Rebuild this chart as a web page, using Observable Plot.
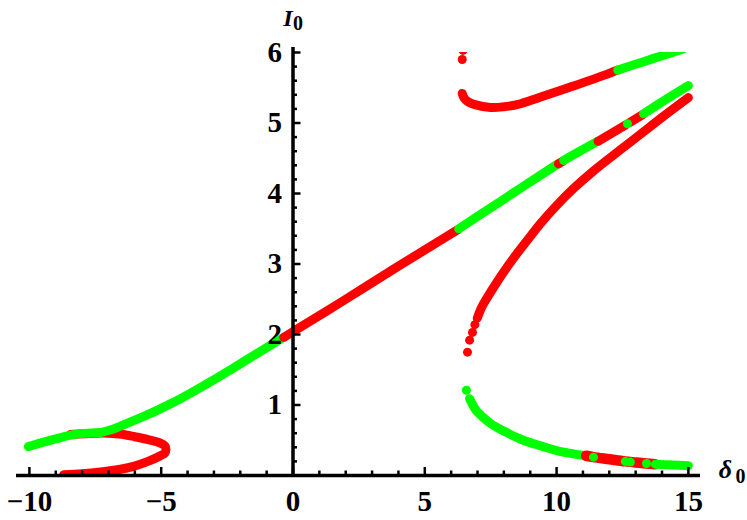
<!DOCTYPE html>
<html><head><meta charset="utf-8">
<script src="https://cdn.jsdelivr.net/npm/d3@7"></script>
<script src="https://cdn.jsdelivr.net/npm/@observablehq/plot@0.6"></script>
<style>html,body{margin:0;padding:0;background:#fff}</style>
</head><body><div id="chart"></div>
<script>
// ---- colours ----
const RED = "#ff0000", GREEN = "#00ff00";

// ---- tick labels ----
const xMajor = [-10, -5, 0, 5, 10, 15];
const xLabels = ["\u221210", "\u22125", "0", "5", "10", "15"];
const yMajor = [1, 2, 3, 4, 5, 6];
const yLabels = ["1", "2", "3", "4", "5", "6"];

// ---- data: [δ0, I0] ----
// left loop (red) and main branch (green, then red, then green)
const loopRed = [[-8.45,0.58],[-7.5,0.6],[-7,0.6],[-6.5,0.585],[-6,0.55],[-5.5,0.51],[-5.03,0.46],[-4.86,0.42],[-4.82,0.37],[-4.86,0.32],[-5.03,0.28],[-5.5,0.2],[-6.05,0.13],[-6.6,0.085],[-7.3,0.05],[-8,0.025],[-8.7,0.01]];
const mainGreenLeft = [[-10.04,0.41],[-9.5,0.47],[-9,0.52],[-8.33,0.58],[-7.8,0.6],[-7.3,0.61],[-6.9,0.65],[-6.55,0.7],[-6,0.785],[-5.41,0.88],[-4.8,0.99],[-4.27,1.09],[-3.5,1.25],[-2.5,1.47],[-1.5,1.70],[-0.4,1.95]];
const mainRed = [[-0.35,1.96],[0,2.04],[2,2.5],[4,2.97],[6.27,3.49]];
const mainGreen1 = [[6.29,3.5],[8,3.92],[10.05,4.42]];
const mainRed1 = [[10.07,4.42],[10.24,4.46]];
const mainGreen2 = [[10.27,4.47],[10.64,4.55],[11.55,4.74]];
const mainRed2 = [[11.57,4.74],[12.61,4.97]];
const mainGreenDot = [[12.69,4.99]];
const mainRed3 = [[12.78,5.01],[13.27,5.12]];
const mainGreen3 = [[13.3,5.13],[14,5.3],[15,5.53]];
// top branch
const topRed = [[6.42,5.42],[6.5,5.35],[6.65,5.3],[6.9,5.26],[7.5,5.22],[8,5.23],[8.5,5.26],[9.4,5.37],[10.6,5.52],[11.9,5.69],[12.3,5.75]];
const topGreen = [[12.32,5.75],[13.3,5.87],[14.3,5.99],[14.8,6.05]];
const topRedDots = [[6.42,5.9],[6.45,6.03]];
// middle branch (red)
const midRedDots = [[6.62,1.75],[6.7,1.92],[6.81,2.03],[6.9,2.14]];
const midRed = [[6.99,2.23],[7.15,2.38],[7.38,2.53],[7.68,2.71],[8,2.89],[8.36,3.08],[9,3.39],[9.38,3.57],[10,3.83],[10.64,4.07],[11.4,4.32],[12.42,4.62],[13.18,4.84],[14,5.08],[15,5.36]];
// lower branch (green, red, green)
const lowGreenDots = [[6.58,1.21]];
const lowGreen1 = [[6.7,1.09],[6.85,0.98],[7,0.9],[7.49,0.74],[8,0.63],[8.74,0.5],[9.4,0.42],[10.03,0.35],[10.6,0.31],[11.1,0.28]];
const lowRed = [[11.12,0.28],[11.4,0.26],[12,0.23],[12.6,0.2],[13,0.185],[13.4,0.17],[13.73,0.16]];
const lowGreenOnRed = [[11.4,0.26],[12.61,0.2],[12.8,0.19],[13.41,0.17]];
const lowGreen2 = [[13.75,0.16],[14.4,0.15],[15,0.14]];

// ---- layout ----
const W = 747, H = 520;
const mL = 16, mR = 47, mT = 52, mB = 45;
const xDom = [-10.49, 15.46], yDom = [0, 6];
const kx = (xDom[1] - xDom[0]) / (W - mL - mR);   // data units per px
const ky = (yDom[1] - yDom[0]) / (H - mT - mB);
const yAxisTop = 6.07;

const xMinor = d3.range(-10, 16).filter(v => v % 5 !== 0);
const yMinor = d3.range(1, 30).map(i => i / 5).filter(v => Math.abs(v - Math.round(v)) > 1e-9);

const SERIF = "'Liberation Serif', 'Times New Roman', 'DejaVu Serif', serif";
const LW = 9;

const lineOf = (pts, c, w = LW) => Plot.line(pts, {x: d => d[0], y: d => d[1], stroke: c, strokeWidth: w,
  strokeLinecap: "round", strokeLinejoin: "round", clip: true, curve: "catmull-rom"});
const dotsOf = (pts, c) => Plot.dot(pts, {x: d => d[0], y: d => d[1], r: LW / 2, fill: c, stroke: null, clip: true});

const chart = Plot.plot({
  width: W, height: H,
  marginLeft: mL, marginRight: mR, marginTop: mT, marginBottom: mB,
  x: {domain: xDom, axis: null},
  y: {domain: yDom, axis: null},
  marks: [
    // data
    lineOf(loopRed, RED),
    lineOf(mainGreenLeft, GREEN),
    lineOf(mainRed, RED),
    lineOf(mainGreen1, GREEN),
    lineOf(mainRed1, RED),
    lineOf(mainGreen2, GREEN),
    lineOf(mainRed2, RED),
    lineOf(mainRed3, RED),
    dotsOf(mainGreenDot, GREEN),
    lineOf(mainGreen3, GREEN),
    lineOf(topRed, RED),
    lineOf(topGreen, GREEN),
    dotsOf(topRedDots, RED),
    dotsOf(midRedDots, RED),
    lineOf(midRed, RED),
    dotsOf(lowGreenDots, GREEN),
    lineOf(lowGreen1, GREEN),
    lineOf(lowRed, RED, 10.5),
    dotsOf(lowGreenOnRed, GREEN),
    lineOf(lowGreen2, GREEN),
    // axes
    Plot.ruleY([0], {x1: xDom[0], x2: xDom[1], stroke: "#000", strokeWidth: 3.5}),
    Plot.ruleX([0], {y1: 0, y2: yAxisTop, stroke: "#000", strokeWidth: 3.5}),
    Plot.ruleX(xMajor, {x: d => d, y1: 0, y2: 8 * ky, stroke: "#000", strokeWidth: 2.5}),
    Plot.ruleX(xMinor, {x: d => d, y1: 0, y2: 4.5 * ky, stroke: "#000", strokeWidth: 2.5}),
    Plot.ruleY(yMajor, {y: d => d, x1: 0, x2: 8 * kx, stroke: "#000", strokeWidth: 2.5}),
    Plot.ruleY(yMinor, {y: d => d, x1: 0, x2: 4.5 * kx, stroke: "#000", strokeWidth: 2.5}),
    // tick labels
    Plot.text(xMajor, {x: d => d, y: () => 0, text: (d, i) => xLabels[i], dy: 26, fontSize: 29,
      fontWeight: "bold", fontFamily: SERIF, lineAnchor: "middle", fill: "#000"}),
    Plot.text(yMajor, {x: () => 0, y: d => d, text: (d, i) => yLabels[i], dx: -11, textAnchor: "end",
      fontSize: 29, fontWeight: "bold", fontFamily: SERIF, lineAnchor: "middle", fill: "#000"}),
    // axis titles
    Plot.text(["I"], {x: () => 0, y: () => yDom[1], text: d => d, dx: -5, dy: -34, fontSize: 24,
      fontWeight: "bold", fontStyle: "italic", fontFamily: SERIF, lineAnchor: "middle", fill: "#000"}),
    Plot.text(["0"], {x: () => 0, y: () => yDom[1], text: d => d, dx: 5, dy: -29, fontSize: 20,
      fontWeight: "bold", fontFamily: SERIF, lineAnchor: "middle", fill: "#000"}),
    Plot.text(["\u03b4"], {x: () => xDom[1], y: () => 0, text: d => d, dx: 25, dy: -6, fontSize: 26,
      fontWeight: "bold", fontStyle: "italic", fontFamily: SERIF, lineAnchor: "middle", fill: "#000"}),
    Plot.text(["0"], {x: () => xDom[1], y: () => 0, text: d => d, dx: 40, dy: 1, fontSize: 20,
      fontWeight: "bold", fontFamily: SERIF, lineAnchor: "middle", fill: "#000"})
  ]
});
document.getElementById("chart").appendChild(chart);
</script>
</body></html>
